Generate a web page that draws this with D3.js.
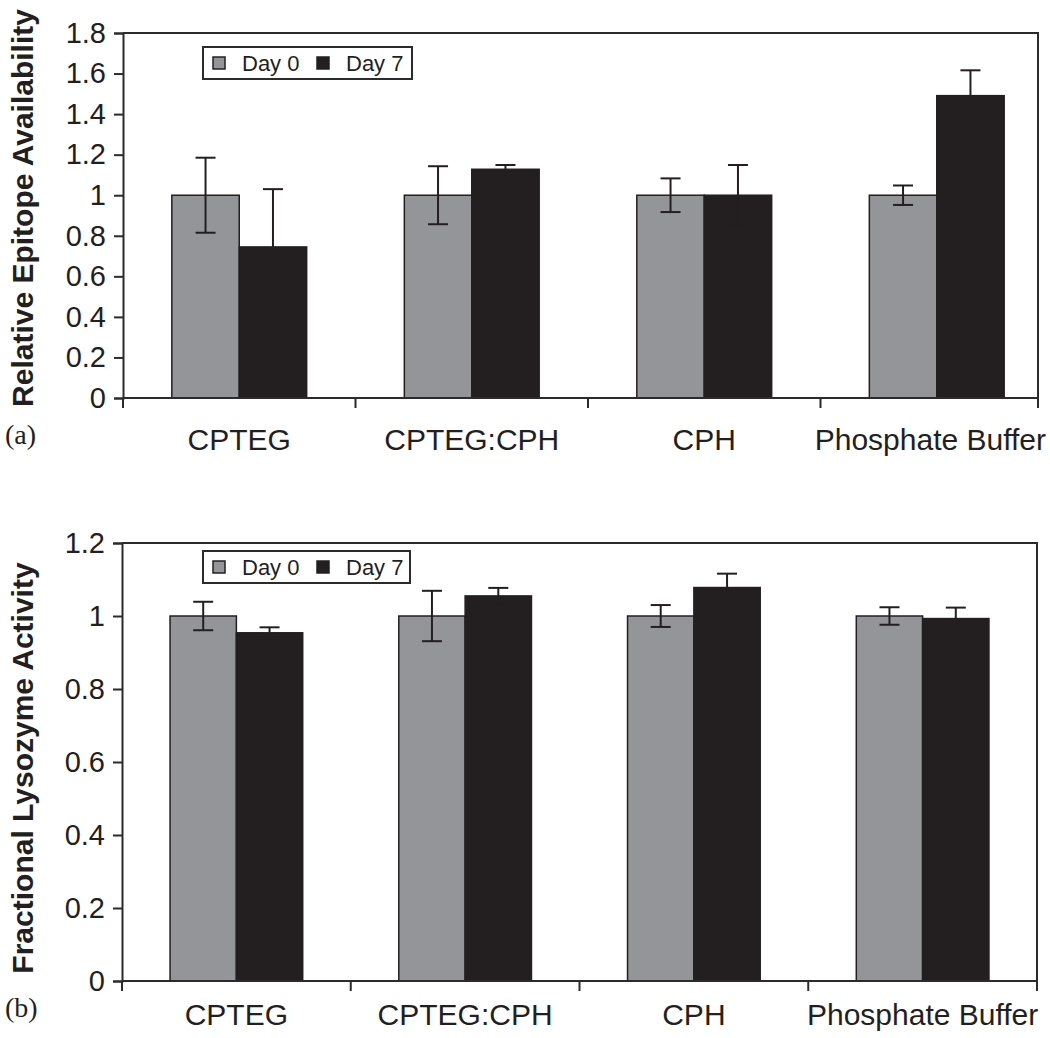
<!DOCTYPE html>
<html>
<head>
<meta charset="utf-8">
<script src="https://cdn.jsdelivr.net/npm/d3@7"></script>
<style>
  html, body { margin: 0; padding: 0; background: #fff; }
  svg { display: block; }
</style>
</head>
<body>
<script>
// ---------- DATA ----------
const categories = ["CPTEG", "CPTEG:CPH", "CPH", "Phosphate Buffer"];
const seriesNames = ["Day 0", "Day 7"];

// Panel (a): Relative Epitope Availability
const epitopeDay0 = [1.0, 1.0, 1.0, 1.0];
const epitopeDay0Err = [0.185, 0.143, 0.083, 0.048];
const epitopeDay7 = [0.745, 1.128, 1.0, 1.491];
const epitopeDay7Err = [0.285, 0.021, 0.149, 0.125];
const epitopeTicks = [0, 0.2, 0.4, 0.6, 0.8, 1, 1.2, 1.4, 1.6, 1.8];

// Panel (b): Fractional Lysozyme Activity
const lysoDay0 = [1.0, 1.0, 1.0, 1.0];
const lysoDay0Err = [0.039, 0.069, 0.03, 0.024];
const lysoDay7 = [0.954, 1.055, 1.078, 0.993];
const lysoDay7Err = [0.015, 0.022, 0.038, 0.03];
const lysoTicks = [0, 0.2, 0.4, 0.6, 0.8, 1, 1.2];

// ---------- STYLE ----------
const W = 1050, H = 1038;
const colors = ["#939598", "#231f20"];
const frameColor = "#2b2b2b";
const sansFont = "'Liberation Sans', Arial, Helvetica, sans-serif";
const serifFont = "'Liberation Serif', 'Times New Roman', serif";

const svg = d3.select("body").append("svg")
  .attr("width", W).attr("height", H);

function panel(cfg) {
  const g = svg.append("g");
  const y = d3.scaleLinear().domain([0, cfg.yMax]).range([cfg.bottom, cfg.top]);
  const x = d3.scaleBand().domain(categories).range([cfg.left, cfg.left + cfg.bandTotal]).padding(0);
  const bw = x.bandwidth() * 0.29;
  const sub = d3.scaleBand().domain(seriesNames).range([-bw, bw]).padding(0);

  const rows = categories.map((c, i) => ({
    cat: c,
    vals: [
      { s: seriesNames[0], v: cfg.d0[i], e: cfg.e0[i] },
      { s: seriesNames[1], v: cfg.d7[i], e: cfg.e7[i] }
    ]
  }));

  // bars
  const grp = g.selectAll("g.cat").data(rows).join("g")
    .attr("transform", d => `translate(${x(d.cat) + x.bandwidth() / 2},0)`);
  grp.selectAll("rect").data(d => d.vals).join("rect")
    .attr("x", d => sub(d.s))
    .attr("width", sub.bandwidth())
    .attr("y", d => y(d.v))
    .attr("height", d => y(0) - y(d.v))
    .attr("fill", (d, i) => colors[i])
    .attr("stroke", "#231f20")
    .attr("stroke-width", 1.5);

  // error bars
  const cap = 10;
  const eb = grp.selectAll("g.err").data(d => d.vals).join("g")
    .attr("transform", d => `translate(${sub(d.s) + sub.bandwidth() / 2},0)`)
    .attr("stroke", "#231f20").attr("stroke-width", 2).attr("fill", "none");
  eb.append("line").attr("x1", 0).attr("x2", 0)
    .attr("y1", d => y(d.v + d.e)).attr("y2", d => y(d.v - d.e));
  eb.append("line").attr("x1", -cap).attr("x2", cap)
    .attr("y1", d => y(d.v + d.e)).attr("y2", d => y(d.v + d.e));
  eb.append("line").attr("x1", -cap).attr("x2", cap)
    .attr("y1", d => y(d.v - d.e)).attr("y2", d => y(d.v - d.e));

  // frame (top and right)
  g.append("path")
    .attr("d", `M${cfg.left},${cfg.top}H${cfg.right}V${cfg.bottom}`)
    .attr("fill", "none").attr("stroke", frameColor).attr("stroke-width", 2);

  // y axis
  const yAxis = d3.axisLeft(y).tickValues(cfg.ticks).tickSize(9).tickPadding(8)
    .tickFormat(d => String(d));
  const ya = g.append("g").attr("transform", `translate(${cfg.left},0)`).call(yAxis);
  ya.select(".domain").attr("stroke", frameColor).attr("stroke-width", 2);
  ya.selectAll(".tick line").attr("stroke", frameColor).attr("stroke-width", 2);
  ya.selectAll(".tick text").attr("font-family", sansFont).attr("font-size", 29)
    .attr("fill", "#231f20");

  // x axis baseline
  g.append("line").attr("x1", cfg.left).attr("x2", cfg.right)
    .attr("y1", cfg.bottom).attr("y2", cfg.bottom)
    .attr("stroke", frameColor).attr("stroke-width", 2);
  // x ticks at category boundaries and right frame edge
  const xt = categories.map(c => x(c)).concat([cfg.right]);
  g.selectAll("line.xt").data(xt).join("line")
    .attr("x1", d => d).attr("x2", d => d)
    .attr("y1", cfg.bottom).attr("y2", cfg.bottom + 10)
    .attr("stroke", frameColor).attr("stroke-width", 2);
  const labels = g.selectAll("text.cat").data(categories).join("text")
    .attr("x", d => x(d) + x.bandwidth() / 2)
    .attr("y", cfg.catBaseline)
    .attr("text-anchor", "middle")
    .attr("font-family", sansFont).attr("font-size", 30).attr("fill", "#231f20")
    .text(d => d);
  // keep labels inside the picture (shift left like the original does)
  labels.each(function(d) {
    const w = this.getComputedTextLength();
    const cx = x(d) + x.bandwidth() / 2;
    const maxCx = W - 4 - w / 2;
    if (cx > maxCx) d3.select(this).attr("x", maxCx);
  });

  // y title
  g.append("text")
    .attr("transform", `translate(33,${cfg.titleY}) rotate(-90)`)
    .attr("text-anchor", "middle")
    .attr("font-family", sansFont).attr("font-size", 30).attr("font-weight", "bold")
    .attr("fill", "#231f20")
    .text(cfg.title);

  // panel label
  g.append("text")
    .attr("x", 5).attr("y", cfg.labelY)
    .attr("font-family", serifFont).attr("font-size", 28).attr("fill", "#231f20")
    .text(cfg.label);

  // legend
  const lg = g.append("g").attr("transform", `translate(${cfg.legX},${cfg.legY})`);
  lg.append("rect").attr("x", 0).attr("y", 0).attr("width", cfg.legW).attr("height", 32)
    .attr("fill", "#fff").attr("stroke", frameColor).attr("stroke-width", 2);
  const items = [{ n: seriesNames[0], x: 10 }, { n: seriesNames[1], x: 114 }];
  items.forEach((it, i) => {
    lg.append("rect").attr("x", it.x).attr("y", 10).attr("width", 12).attr("height", 12)
      .attr("fill", colors[i]).attr("stroke", "#231f20").attr("stroke-width", 1.5);
    lg.append("text").attr("x", it.x + 29).attr("y", 24)
      .attr("font-family", sansFont).attr("font-size", 22).attr("fill", "#231f20")
      .text(it.n);
  });
}

panel({
  d0: epitopeDay0, e0: epitopeDay0Err, d7: epitopeDay7, e7: epitopeDay7Err,
  ticks: epitopeTicks, yMax: 1.8,
  left: 123, right: 1038, top: 33, bottom: 398, bandTotal: 930,
  catBaseline: 450, title: "Relative Epitope Availability", titleY: 208,
  label: "(a)", labelY: 444, legX: 203, legY: 47, legW: 209
});

panel({
  d0: lysoDay0, e0: lysoDay0Err, d7: lysoDay7, e7: lysoDay7Err,
  ticks: lysoTicks, yMax: 1.2,
  left: 122, right: 1037, top: 543, bottom: 981, bandTotal: 915,
  catBaseline: 1025, title: "Fractional Lysozyme Activity", titleY: 768,
  label: "(b)", labelY: 1017, legX: 203, legY: 551, legW: 207
});
</script>
</body>
</html>
